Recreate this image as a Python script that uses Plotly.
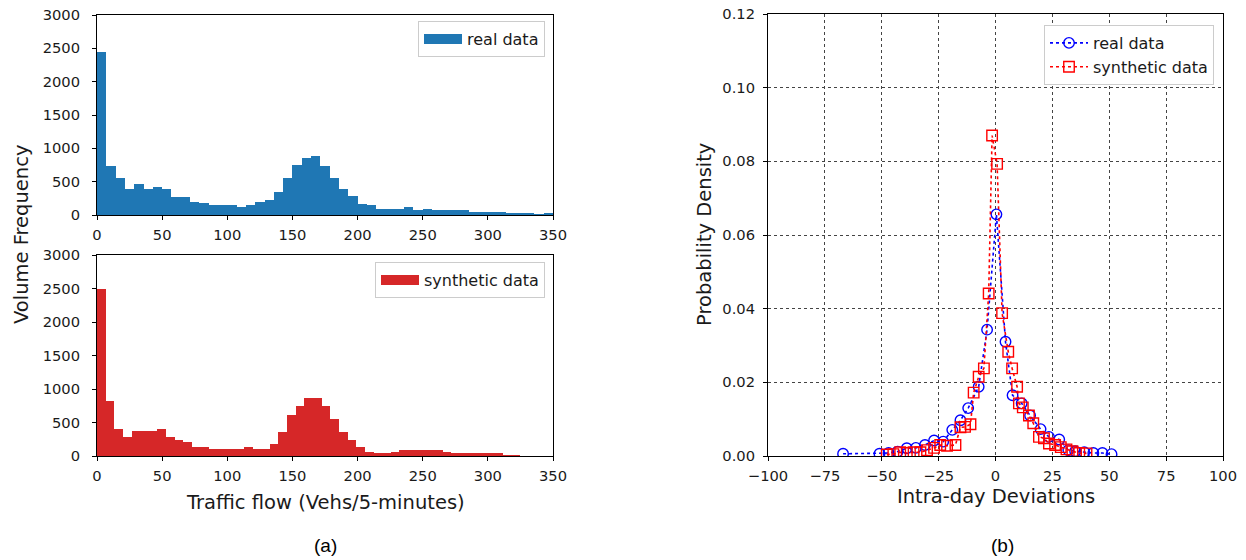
import plotly.graph_objects as go

# ---------------- data ----------------
flow_ticks = [0, 50, 100, 150, 200, 250, 300, 350]
freq_ticks = [0, 500, 1000, 1500, 2000, 2500, 3000]

real_flow_max = 350   # range covered by the real-data bins
synth_flow_max = 325  # range covered by the synthetic-data bins

real_counts = [2440, 735, 560, 390, 465, 390, 415, 390, 265, 265,
               195, 175, 145, 145, 145, 125, 145, 195, 220, 345,
               560, 755, 855, 880, 730, 560, 390, 290, 170, 145,
               95, 95, 95, 120, 70, 95, 70, 70, 70, 70,
               45, 45, 45, 45, 25, 25, 25, 5, 25]

synth_counts = [2490, 825, 405, 285, 380, 380, 380, 405, 285, 235,
                210, 135, 135, 110, 110, 110, 110, 135, 110, 110,
                185, 360, 605, 750, 870, 870, 750, 550, 360, 235,
                135, 65, 40, 40, 65, 85, 85, 85, 85, 85,
                65, 40, 40, 40, 40, 40, 40, 15, 15]

dev_ticks = [-100, -75, -50, -25, 0, 25, 50, 75, 100]
dens_ticks = [0.00, 0.02, 0.04, 0.06, 0.08, 0.10, 0.12]

real_dev_x = [-67, -51, -47, -43, -39, -35, -31, -27, -23, -19, -15.4, -12,
              -7.4, -3.7, 0.4, 4.4, 7.5, 11.5, 15.2, 19.8, 23.5, 28, 32,
              35, 39, 43, 47, 51]
real_dev_y = [0.0006, 0.0006, 0.0008, 0.0012, 0.0021, 0.0022, 0.0030, 0.0042,
              0.0039, 0.0071, 0.0097, 0.0130, 0.0188, 0.0343, 0.0656, 0.0310,
              0.0165, 0.0143, 0.0110, 0.0073, 0.0052, 0.0045, 0.0016, 0.0013,
              0.0010, 0.0008, 0.0008, 0.0005]

synth_dev_x = [-47.8, -44.9, -41.9, -39, -36, -33, -30.1, -27, -24.3, -21.3,
               -17.6, -15.4, -13.4, -11, -9.6, -7.4, -5.1, -3, -1.5, 0.7,
               2.9, 5.6, 7.3, 9.5, 10.3, 12, 14.7, 16.6, 19.1, 21.3,
               23.5, 26.2, 28.7, 31.2, 33.8, 36.8, 40]
synth_dev_y = [0.0004, 0.0005, 0.0010, 0.0008, 0.0010, 0.0010, 0.0016, 0.0022,
               0.0030, 0.0028, 0.0030, 0.0078, 0.0079, 0.0086, 0.0172, 0.0215,
               0.0238, 0.0441, 0.0870, 0.0793, 0.0388, 0.0283, 0.0238, 0.0188,
               0.0143, 0.0132, 0.0110, 0.0089, 0.0052, 0.0048, 0.0034, 0.0030,
               0.0024, 0.0018, 0.0013, 0.0008, 0.0007]

HIST_BLUE = "#1f77b4"
HIST_RED = "#d62728"
FONT = "DejaVu Sans"
TXT = "#1a1a1a"
TICK_SIZE = 14.7
TITLE_SIZE = 19.5
LEGEND_SIZE = 16


def centers(n, total):
    w = total / n
    return [(i + 0.5) * w for i in range(n)], w


rx, rw = centers(len(real_counts), real_flow_max)
sx, sw = centers(len(synth_counts), synth_flow_max)

fig = go.Figure()

fig.add_trace(go.Bar(x=rx, y=real_counts, width=rw, marker=dict(color=HIST_BLUE, line=dict(width=0)),
                     xaxis="x", yaxis="y", showlegend=False))
fig.add_trace(go.Scatter(x=[None], y=[None], mode="lines", line=dict(color=HIST_BLUE, width=11),
                         name="real data", xaxis="x", yaxis="y", legend="legend"))

fig.add_trace(go.Bar(x=sx, y=synth_counts, width=sw, marker=dict(color=HIST_RED, line=dict(width=0)),
                     xaxis="x2", yaxis="y2", showlegend=False))
fig.add_trace(go.Scatter(x=[None], y=[None], mode="lines", line=dict(color=HIST_RED, width=11),
                         name="synthetic data", xaxis="x2", yaxis="y2", legend="legend2"))

fig.add_trace(go.Scatter(x=real_dev_x, y=real_dev_y, mode="lines+markers", name="real data",
                         line=dict(color="blue", dash="dot", width=1.6),
                         marker=dict(symbol="circle-open", size=10.5, color="blue", line=dict(width=1.4)),
                         xaxis="x3", yaxis="y3", legend="legend3"))
fig.add_trace(go.Scatter(x=synth_dev_x, y=synth_dev_y, mode="lines+markers", name="synthetic data",
                         line=dict(color="red", dash="dot", width=1.6),
                         marker=dict(symbol="square-open", size=10.5, color="red", line=dict(width=1.4)),
                         xaxis="x3", yaxis="y3", legend="legend3"))

W, H = 1246, 560


def px_x(p):
    return p / W


def px_y(p):
    return 1 - p / H


axis_common = dict(showline=True, linecolor="black", linewidth=1, mirror=True, automargin=False,
                   ticks="outside", ticklen=4, tickcolor="black", zeroline=False,
                   tickfont=dict(family=FONT, size=TICK_SIZE, color=TXT))

grid = dict(showgrid=True, gridcolor="#444", griddash="dot", gridwidth=1)
legend_common = dict(xanchor="right", yanchor="top", bgcolor="white", bordercolor="#cccccc",
                     borderwidth=1, font=dict(family=FONT, size=LEGEND_SIZE, color=TXT),
                     itemwidth=38, tracegroupgap=0)

left_dom = [px_x(97), px_x(553)]
fig.update_layout(
    template="none",
    width=W, height=H,
    margin=dict(l=0, r=0, t=0, b=0, autoexpand=False),
    paper_bgcolor="white", plot_bgcolor="white",
    bargap=0,
    font=dict(family=FONT, color=TXT),
    xaxis=dict(domain=left_dom, anchor="y", range=[0, 350], tickvals=flow_ticks, showgrid=False,
               ticklabelstandoff=2, **axis_common),
    yaxis=dict(domain=[px_y(215), px_y(15)], anchor="x", range=[0, 3000], tickvals=freq_ticks, showgrid=False,
               ticklabelstandoff=9, **axis_common),
    xaxis2=dict(domain=left_dom, anchor="y2", range=[0, 350], tickvals=flow_ticks, showgrid=False,
                ticklabelstandoff=2, **axis_common),
    yaxis2=dict(domain=[px_y(456), px_y(255)], anchor="x2", range=[0, 3000], tickvals=freq_ticks, showgrid=False,
                ticklabelstandoff=9, **axis_common),
    xaxis3=dict(domain=[px_x(768), px_x(1223)], anchor="y3", range=[-100, 100], tickvals=dev_ticks,
                ticklabelstandoff=2, **grid, **axis_common),
    yaxis3=dict(domain=[px_y(456), px_y(14)], anchor="x3", range=[0, 0.12], tickvals=dens_ticks, tickformat=".2f",
                ticklabelstandoff=5, **grid, **axis_common),
    legend=dict(x=px_x(545), y=px_y(21), **legend_common),
    legend2=dict(x=px_x(545), y=px_y(262), **legend_common),
    legend3=dict(x=px_x(1214), y=px_y(25), **legend_common),
)

annotations = [
    dict(text="Volume Frequency", x=px_x(21), y=px_y(235), textangle=-90, font=dict(size=TITLE_SIZE)),
    dict(text="Traffic flow (Vehs/5-minutes)", x=px_x(325), y=px_y(502), font=dict(size=TITLE_SIZE)),
    dict(text="Probability Density", x=px_x(704), y=px_y(235), textangle=-90, font=dict(size=TITLE_SIZE)),
    dict(text="Intra-day Deviations", x=px_x(996), y=px_y(496), font=dict(size=TITLE_SIZE)),
    dict(text="(a)", x=px_x(325), y=px_y(545), font=dict(family="Liberation Sans", size=19, color="black")),
    dict(text="(b)", x=px_x(1002), y=px_y(545), font=dict(family="Liberation Sans", size=19, color="black")),
]
for a in annotations:
    f = dict(family=FONT, color=TXT)
    f.update(a.pop("font"))
    fig.add_annotation(xref="paper", yref="paper", showarrow=False, xanchor="center", yanchor="middle",
                       font=f, **a)

fig.write_html("out.html")
